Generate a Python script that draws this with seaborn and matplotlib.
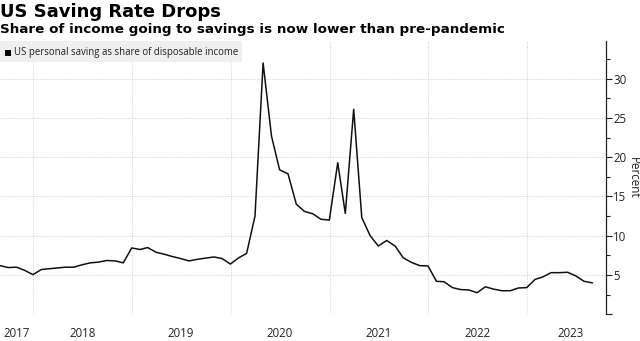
import numpy as np
import pandas as pd
import matplotlib
matplotlib.use("Agg")
import matplotlib.pyplot as plt
import matplotlib.dates as mdates
from matplotlib.patches import Rectangle
import seaborn as sns

# ---- data (monthly, Aug 2017 - Aug 2023) ----
start_month = "2017-08-31"
saving_rate = [
    6.2, 5.95, 6.0, 5.6, 5.05,                                     # 2017 Aug-Dec
    5.7, 5.8, 5.9, 6.0, 6.0, 6.3, 6.55, 6.65, 6.85, 6.8, 6.55, 8.45,  # 2018
    8.25, 8.5, 7.9, 7.65, 7.35, 7.1, 6.8, 7.0, 7.15, 7.3, 7.1, 6.4,   # 2019
    7.2, 7.75, 12.5, 32.0, 22.7, 18.4, 17.9, 14.0, 13.1, 12.8, 12.1, 12.0,  # 2020
    19.3, 12.85, 26.1, 12.3, 10.0, 8.7, 9.4, 8.7, 7.2, 6.6, 6.2, 6.15,     # 2021
    4.2, 4.15, 3.4, 3.15, 3.1, 2.75, 3.5, 3.2, 3.0, 3.0, 3.35, 3.4,        # 2022
    4.45, 4.75, 5.3, 5.3, 5.35, 4.9, 4.2, 4.0,                            # 2023 Jan-Aug
]
year_labels = ["2017", "2018", "2019", "2020", "2021", "2022", "2023"]
y_ticks = [0, 5, 10, 15, 20, 25, 30]
y_tick_labels = ["", "5", "10", "15", "20", "25", "30"]
series_name = "US personal saving as share of disposable income"
title = "US Saving Rate Drops"
subtitle = "Share of income going to savings is now lower than pre-pandemic"

dates = pd.date_range(start_month, periods=len(saving_rate), freq="ME")
df = pd.DataFrame({"date": dates, "rate": saving_rate})

sns.set_theme(style="white")
plt.rcParams["font.family"] = ["DejaVu Sans"]

W, H = 640, 341
fig = plt.figure(figsize=(W / 100, H / 100), dpi=100)
ax = fig.add_axes([0.0, 1 - 314.3 / H, 605.7 / W, (314.3 - 41) / H])

sns.lineplot(data=df, x="date", y="rate", ax=ax, color="#111111", linewidth=1.1)

ax.set_xlim(pd.Timestamp("2017-08-31"), pd.Timestamp("2023-10-19"))
ax.set_ylim(0, 34.8)

# y axis on the right
ax.yaxis.tick_right()
ax.yaxis.set_label_position("right")
ax.set_yticks(y_ticks)
ax.set_yticklabels(y_tick_labels)
ax.set_yticks(np.arange(2.5, 34, 5), minor=True)
ax.tick_params(axis="y", which="major", direction="out", length=4, width=0.8,
               color="#222222", labelsize=8.3, labelcolor="#222222", pad=1.5)
ax.tick_params(axis="y", which="minor", direction="out", length=3, width=0.8,
               color="#222222", right=True, left=False)
ax.set_ylabel("")
fig.text(633.5 / W, 1 - 178 / H, "Percent", rotation=270, fontsize=8.4,
         family="Open Sans", color="#222222", ha="center", va="center")
for lab in ax.get_yticklabels():
    lab.set_family("Open Sans")

# x axis: gridlines at year boundaries, labels centred in the visible year part
year_starts = [pd.Timestamp(f"{y}-01-01") for y in range(2018, 2024)]
label_pos = [pd.Timestamp("2017-10-31")] + \
            [pd.Timestamp(f"{y}-07-01") for y in range(2018, 2023)] + \
            [pd.Timestamp("2023-06-10")]
ax.set_xticks(year_starts, minor=True)
ax.set_xticks(label_pos)
ax.set_xticklabels(year_labels)
ax.tick_params(axis="x", which="both", length=0, labelsize=8.3,
               labelcolor="#222222", pad=9)
for lab in ax.get_xticklabels():
    lab.set_family("Open Sans")

ax.grid(False)
ax.grid(axis="y", which="major", linestyle=(0, (1, 1.2)), color="#d6d6d6", linewidth=0.8)
ax.grid(axis="x", which="minor", linestyle=(0, (1, 1.2)), color="#d6d6d6", linewidth=0.8)

for s in ["left", "top", "bottom"]:
    ax.spines[s].set_visible(False)
ax.spines["right"].set_color("#222222")
ax.spines["right"].set_linewidth(0.9)
ax.set_xlabel("")

# titles
fig.text(0.0, 1 - 17.3 / H, title, fontsize=13.0, fontweight="bold",
         va="baseline", ha="left", color="#000000")
fig.text(0.0, 1 - 33.3 / H, subtitle, fontsize=9.7, fontweight="bold",
         va="baseline", ha="left", color="#000000")

# legend box
fig.add_artist(Rectangle((0, 1 - 62 / H), 242 / W, 21 / H, transform=fig.transFigure,
                         facecolor="#efefef", edgecolor="none", zorder=5))
fig.add_artist(Rectangle((5 / W, 1 - 55.5 / H), 5.5 / W, 6 / H, transform=fig.transFigure,
                         facecolor="#000000", edgecolor="none", zorder=6))
fig.text(14 / W, 1 - 52.5 / H, series_name, fontsize=6.9, family="Open Sans",
         va="center", ha="left", color="#222222", zorder=7)

fig.savefig("out.png", dpi=100)
